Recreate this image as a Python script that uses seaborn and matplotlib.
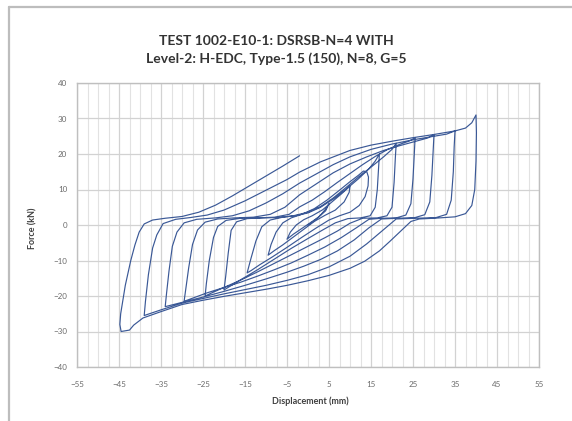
import numpy as np
import pandas as pd
import matplotlib
matplotlib.use("Agg")
import matplotlib.pyplot as plt
from matplotlib.ticker import MultipleLocator
from matplotlib.lines import Line2D
import seaborn as sns

# ---- data: half-cycles in test order (displacement mm, force kN) ----
b00_x = [0, 1.5, 3, 4.2, 5]
b00_y = [0, 1.2, 2.8, 4.5, 6]
b01_x = [5, 4.2, 2.5, 0.5, -1.5, -3.5, -5]
b01_y = [6, 4, 2.2, 0.6, -1, -2.6, -4]
b02_x = [-5, -4.2, -2.8, -1, 1, 3.5, 6, 8, 9.3, 10]
b02_y = [-4, -2, 0, 1.5, 2.6, 4.3, 6.8, 8.8, 10.2, 11]
b03_x = [10, 9.8, 8.6, 6.5, 4, 1.5, -1, -3.5, -6, -8, -9.5]
b03_y = [11, 9.2, 6.5, 4.2, 2.7, 1, -1.2, -3.4, -5.6, -7.2, -8.5]
b04_x = [-9.5, -8.8, -7.6, -6, -4, -1.5, 1.5, 4.5, 7.5, 10, 12, 13.2, 14]
b04_y = [-8.5, -5.5, -2, 0.6, 2, 3, 4.6, 7, 9.8, 12.2, 14, 15.2, 15]
b05_x = [14, 14.4, 14.3, 13.6, 12.2, 10, 7.5, 5, 2, -1.5, -5, -8.5, -11.5, -13.5, -14.5]
b05_y = [15, 13.5, 11, 8, 5.5, 3.6, 2.6, 1.4, -0.8, -3.5, -6.3, -9, -11.2, -12.8, -13.5]
b06_x = [-14.5, -13.6, -12.4, -11, -9, -6, -3, 0, 3, 6, 9, 12, 14.5, 16, 17]
b06_y = [-13.5, -9.5, -4.5, -0.5, 1.4, 2.2, 2.6, 3.4, 5, 7.3, 10, 13, 15.8, 18, 20]
b07_x = [17, 16.8, 16.5, 16, 14.8, 12.5, 9.5, 6.5, 3.5, 0, -4, -8, -12, -16, -18.5, -20]
b07_y = [20, 16, 10, 5, 2.6, 2, 1.8, 0.6, -1.4, -3.8, -6.6, -9.6, -12.6, -15.4, -17.2, -18.3]
b08_x = [-20, -19.6, -19, -18.3, -17, -14.5, -11, -7, -3.5, 0, 3, 6, 9, 12, 15, 18, 20, 21]
b08_y = [-18.3, -14.5, -8, -1.5, 0.9, 1.8, 2, 2.1, 2.6, 3.6, 5.2, 7.6, 10.5, 13.5, 16.3, 19.2, 21.3, 23]
b09_x = [21, 20.8, 20.5, 20, 18.8, 16.5, 13, 10, 7, 4, 0, -4, -8, -12, -16, -20, -22.5, -24.5]
b09_y = [23, 19, 12, 5, 2.6, 2, 1.9, 0.5, -1.7, -3.6, -6, -8.4, -10.8, -13.2, -15.5, -17.6, -18.9, -20]
b10_x = [-24.5, -24.2, -23.5, -22.5, -21.5, -19.5, -16, -12, -8, -4.5, -2, 1, 4, 7, 10, 13, 16, 19, 22, 24, 25.5]
b10_y = [-20, -16.5, -10, -3.5, -0.4, 1.3, 1.9, 2, 2.2, 3, 5.1, 7, 9.4, 12, 14.5, 17, 19.3, 21.3, 22.8, 23.6, 24.5]
b11_x = [25.5, 25.3, 25, 24.5, 23.3, 21, 17.5, 14.5, 11.5, 8, 4, 0, -4, -8, -12, -16, -20, -24, -27, -29.5]
b11_y = [24.5, 20, 13, 6, 2.8, 2, 1.9, 1.6, -0.8, -3.5, -6.2, -8.5, -10.7, -12.6, -14.4, -16.1, -17.6, -19.1, -20.4, -21.5]
b12_x = [-29.5, -29.1, -28.4, -27.5, -26.3, -24.5, -21.5, -17.5, -13, -9, -5.5, -2, 2, 6, 10, 14, 18, 22, 26, 28.5, 30]
b12_y = [-21.5, -18, -12, -5.5, -1.4, 0.8, 1.7, 2, 2.2, 3, 5, 8.5, 11.6, 14.7, 17.2, 19.2, 21, 22.4, 23.7, 24.5, 25.5]
b13_x = [30, 29.8, 29.5, 29, 27.8, 25.5, 21.5, 17.5, 14.5, 11, 7, 3, -1, -5, -10, -15, -20, -25, -30, -34]
b13_y = [25.5, 21, 14, 6.5, 2.9, 2.1, 1.9, 1.7, -0.8, -4.2, -7.3, -9.7, -11.6, -13.3, -15.2, -17, -18.7, -20.3, -21.8, -23]
b14_x = [-34, -33.7, -33.1, -32.3, -31.2, -29.5, -26.5, -22, -18, -14, -10, -6, -2, 2, 6, 10, 15, 20, 25, 30, 33, 35]
b14_y = [-23, -19.5, -13, -6, -2, 0.6, 1.6, 2, 2.6, 4, 6.2, 8.8, 11.8, 14.4, 17, 19.2, 21.3, 22.8, 24, 25, 25.6, 26.5]
b15_x = [35, 34.8, 34.6, 34.1, 33, 30.5, 26, 21, 18, 14, 10, 5, 0, -5, -10, -15, -20, -25, -30, -35, -39]
b15_y = [26.5, 22, 15, 7, 3, 2.1, 1.9, 1.7, -1.3, -5.3, -8.8, -11.8, -14, -15.6, -17, -18.2, -19.4, -20.7, -22, -23.9, -25.5]
b16_x = [-39, -38.7, -38, -37, -36, -34.5, -31.5, -28, -24, -20, -15, -10, -5, -2, 3, 10, 15, 20, 25, 30, 35, 37.5, 39, 40]
b16_y = [-25.5, -21.5, -14, -6.5, -2.8, 0.4, 1.6, 2.1, 2.8, 4.2, 6.8, 9.8, 12.8, 14.9, 17.8, 21, 22.5, 23.6, 24.6, 25.5, 26.5, 27.3, 28.8, 31]
b17_x = [40, 40.1, 40, 39.7, 39, 37.5, 35, 30, 26.5, 24.5, 22, 19.5, 17, 13.5, 10, 5, 0, -5, -10, -15, -20, -25, -30, -35, -39.3, -41.5, -42.5, -44.5]
b17_y = [31, 26, 18, 10, 5.5, 3.2, 2.3, 1.9, 1.7, 1, -1.8, -4.6, -7.3, -10.2, -12.2, -14.2, -15.7, -17, -18.1, -19.1, -20.1, -21.2, -22.4, -24.4, -26.2, -28.2, -29.6, -30]
b18_x = [-44.5, -44.8, -44.6, -43.5, -42.2, -41.2, -40.2, -39, -37, -34, -30, -26, -22, -18, -14, -10, -6, -2]
b18_y = [-30, -28, -25, -17, -10, -5.6, -2, 0.3, 1.4, 1.9, 2.4, 3.6, 5.6, 8.2, 11, 13.8, 16.6, 19.5]

x_ticks = [-55, -45, -35, -25, -15, -5, 5, 15, 25, 35, 45, 55]
y_ticks = [-40, -30, -20, -10, 0, 10, 20, 30, 40]

title_text = "TEST 1002-E10-1: DSRSB-N=4 WITH\nLevel-2: H-EDC, Type-1.5 (150), N=8, G=5"
x_label = "Displacement (mm)"
y_label = "Force (kN)"

branches_x = [b00_x, b01_x, b02_x, b03_x, b04_x, b05_x, b06_x, b07_x, b08_x, b09_x,
              b10_x, b11_x, b12_x, b13_x, b14_x, b15_x, b16_x, b17_x, b18_x]
branches_y = [b00_y, b01_y, b02_y, b03_y, b04_y, b05_y, b06_y, b07_y, b08_y, b09_y,
              b10_y, b11_y, b12_y, b13_y, b14_y, b15_y, b16_y, b17_y, b18_y]

df = pd.DataFrame({
    "disp": np.concatenate([np.array(b, float) for b in branches_x]),
    "force": np.concatenate([np.array(b, float) for b in branches_y]),
})

sns.set_style("white")
plt.rcParams["font.family"] = ["Lato", "DejaVu Sans"]

W, H = 572, 421
fig = plt.figure(figsize=(W / 100, H / 100), dpi=100)
L, R, T, B = 77, 539, 83, 367
ax = fig.add_axes([L / W, 1 - B / H, (R - L) / W, (B - T) / H])

sns.lineplot(data=df, x="disp", y="force", sort=False, estimator=None,
             color="#3A5896", linewidth=0.85, ax=ax, zorder=3)

ax.set_xlim(-55, 55)
ax.set_ylim(-40, 40)
ax.set_xticks(x_ticks)
ax.set_yticks(y_ticks)
ax.xaxis.set_minor_locator(MultipleLocator(2.5))
ax.grid(which="minor", axis="x", color="#E2E2E2", linewidth=0.8, zorder=0)
ax.grid(which="major", axis="x", color="#D2D2D2", linewidth=0.9, zorder=0)
ax.grid(which="major", axis="y", color="#D2D2D2", linewidth=0.9, zorder=0)
ax.set_axisbelow(True)
ax.tick_params(which="both", length=0, labelsize=5.8, labelcolor="#6A6A6A")
ax.tick_params(axis="x", pad=10)
ax.tick_params(axis="y", pad=7)
for s in ax.spines.values():
    s.set_color("#BFBFBF")
    s.set_linewidth(1.0)
ax.set_xlabel("")
ax.set_ylabel("")

fig.text(310 / W, 1 - 401 / H, x_label, ha="center", va="center",
         fontsize=6.5, fontweight="bold", color="#404040")
fig.text(33 / W, 1 - 228 / H, y_label, ha="center", va="center", rotation=90,
         fontsize=6.5, fontweight="bold", color="#404040")
fig.text(276 / W, 1 - 50 / H, title_text, ha="center", va="center",
         fontsize=10, fontweight="bold", color="#333333", linespacing=1.45)

# outer chart border (cropped at right/bottom)
fig.add_artist(Line2D([9 / W, 9 / W], [0, 1 - 7 / H], transform=fig.transFigure,
                      color="#BDBDBD", linewidth=1.6))
fig.add_artist(Line2D([9 / W, 1], [1 - 7 / H, 1 - 7 / H], transform=fig.transFigure,
                      color="#BDBDBD", linewidth=1.6))

fig.savefig("out.png", dpi=100)
